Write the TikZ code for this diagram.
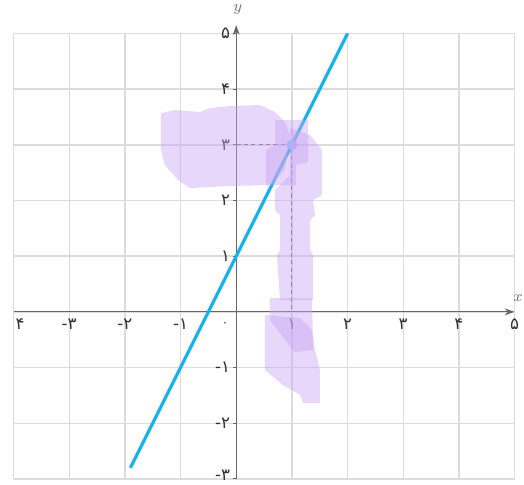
\documentclass[tikz,border=0pt]{standalone}
\usepackage{fontspec}
\newfontfamily\fafont{DejaVu Sans}
\definecolor{LINEBLUE}{HTML}{14B1EA}
\definecolor{HILITE}{HTML}{C9A6F5}
\definecolor{GRIDGRAY}{HTML}{DCDCDC}
\definecolor{DOTBLUE}{HTML}{8CBEFA}
\usetikzlibrary{arrows.meta}

\begin{document}
\begin{tikzpicture}[
  gridln/.style={draw=GRIDGRAY, line width=0.7pt},
  axis/.style={draw=black!60, line width=0.6pt, -{Stealth[length=5pt,width=3.5pt]}},
  xlab/.style={font={\fafont\fontsize{8.5}{10}\selectfont}, text=black!80, inner sep=1pt},
  ylab/.style={xlab, anchor=east},
  guide/.style={draw=black!55, line width=0.5pt, dash pattern=on 2.2pt off 1.6pt},
  graphln/.style={draw=LINEBLUE, line width=1.6pt},
  ptdot/.style={circle, fill=DOTBLUE, inner sep=0pt, minimum size=5.5pt},
  hilite/.style={fill=HILITE, fill opacity=0.45, draw=none}
]
\useasboundingbox (-4.243,-3.110) rectangle (5.170,5.602);

% grid
\foreach \i in {-4,...,5} \draw[gridln] (\i,-3) -- (\i,5);
\foreach \j in {-3,...,5} \draw[gridln] (-4,\j) -- (5,\j);

% axes
\coordinate (xs) at (-4,0);
\coordinate (xe) at (5,0);
\coordinate (ys) at (0,-3);
\coordinate (ye) at (0,5.15);
\draw[axis] (xs) -- (xe);
\draw[axis] (ys) -- (ye);
\foreach \j in {-3,...,5} \draw[black!60, line width=0.5pt] (-0.05,\j) -- (0,\j);

\node[xlab, text=black!55] (ylabel) at (0.03,5.43) {$y$};
\node[xlab, text=black!55, anchor=east, inner sep=0.5pt] (xlabel) at (5.17,0.25) {$x$};

% axis labels
\foreach \x/\t in {-3/-۳,-2/-۲,-1/-۱,1/۱,2/۲,3/۳,4/۴,5/۵}
  \node[xlab] (xl\x) at (\x,-0.22) {\t};
\node[xlab] (xlm4) at (-3.88,-0.22) {۴};
\node[xlab, font={\fafont\fontsize{6}{7}\selectfont}] (xl0) at (-0.2,-0.22) {۰};
\foreach \y/\t in {5/۵,4/۴,3/۳,2/۲,1/۱,-1/-۱,-2/-۲}
  \node[ylab] (yl\y) at (-0.07,\y) {\t};
\node[ylab] (ylm3) at (-0.07,-2.93) {-۳};

% graph and point
\coordinate (A) at (-1.9,-2.8);
\coordinate (B) at (2,5);
\coordinate (P0y) at (0,3);
\coordinate (P0x) at (1,0);
\draw[guide] (P0y) -- (1,3) -- (P0x);
\draw[graphln] (A) -- (B);
\node[ptdot] (P) at (1,3) {};

% highlighter marks
\fill[hilite] (-1.351,3.570) -- (-1.099,3.625) -- (-0.650,3.589) -- (-0.471,3.661)
  -- (-0.111,3.697) -- (0.428,3.715) -- (0.697,3.589) -- (0.876,3.409) -- (0.966,3.176)
  -- (0.876,2.547) -- (0.607,2.278) -- (-0.111,2.260) -- (-0.830,2.224) -- (-1.046,2.368)
  -- (-1.279,2.637) -- (-1.351,2.906) -- cycle;
\fill[hilite] (0.697,3.445) -- (1.290,3.445) -- (1.290,2.691) -- (1.074,2.637)
  -- (1.074,2.278) -- (0.535,2.278) -- (0.535,2.906) -- (0.697,2.996) -- cycle;
\fill[hilite] (0.966,3.301) -- (1.326,3.176) -- (1.541,2.906) -- (1.541,2.098)
  -- (1.380,2.008) -- (1.415,1.739) -- (1.326,1.649) -- (1.326,1.110) -- (1.380,1.020)
  -- (1.380,0.212) -- (0.787,0.212) -- (0.733,1.020) -- (0.787,1.110) -- (0.787,1.739)
  -- (0.697,1.829) -- (0.697,2.188) -- (0.966,2.457) -- cycle;
\fill[hilite] (0.607,0.248) -- (1.362,0.248) -- (1.380,-0.686) -- (1.056,-0.722)
  -- (0.876,-0.506) -- (0.607,-0.147) -- cycle;
\fill[hilite] (0.517,-0.057) -- (1.146,-0.111) -- (1.362,-0.327) -- (1.415,-0.686)
  -- (1.505,-1.045) -- (1.505,-1.638) -- (1.200,-1.638) -- (1.146,-1.494)
  -- (0.840,-1.315) -- (0.517,-1.045) -- cycle;
\end{tikzpicture}
\end{document}
